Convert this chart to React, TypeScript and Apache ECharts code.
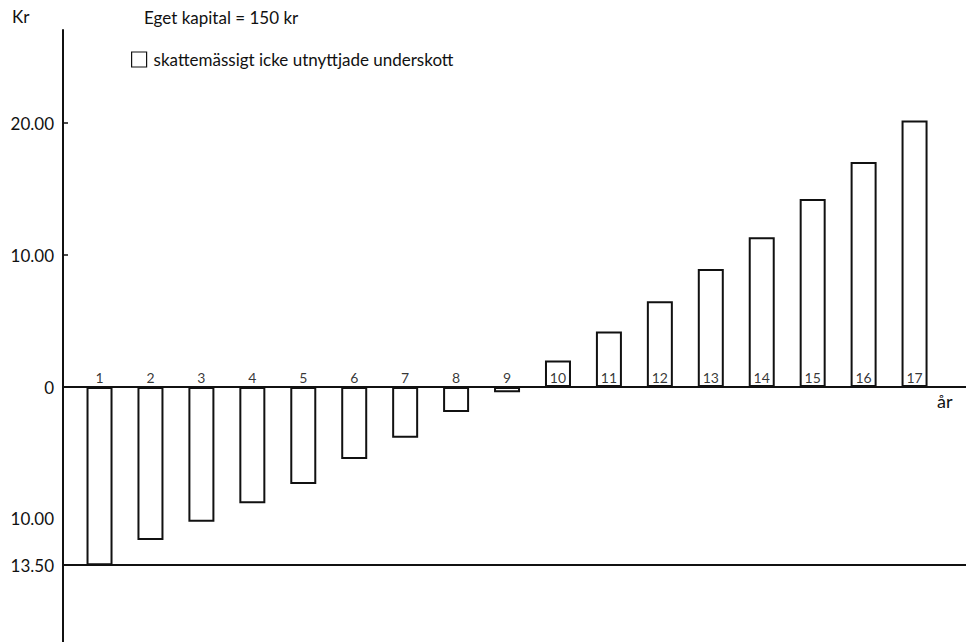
import React, { useEffect, useRef } from "react";
import * as echarts from "echarts";

const years = [1, 2, 3, 4, 5, 6, 7, 8, 9, 10, 11, 12, 13, 14, 15, 16, 17];
const values = [-13.5, -11.6, -10.2, -8.8, -7.35, -5.45, -3.85, -1.9, -0.4, 2.0, 4.2, 6.5, 8.95, 11.35, 14.25, 17.05, 20.2];
const yTicks = [-13.5, -10, 0, 10, 20];
const floorLine = -13.5;
const titleText = "Eget kapital = 150 kr";
const seriesName = "skattemässigt icke utnyttjade underskott";
const FONT = "Lato, 'Open Sans', 'DejaVu Sans', sans-serif";

export default function App() {
  const ref = useRef<HTMLDivElement>(null);
  useEffect(() => {
    if (!ref.current) return;
    const chart = echarts.init(ref.current, null, { renderer: "svg" });
    chart.setOption({
      animation: false,
      backgroundColor: "#ffffff",
      textStyle: { fontFamily: FONT, color: "#111" },
      title: {
        text: titleText,
        left: 139,
        top: 4,
        textStyle: { fontFamily: FONT, fontSize: 17, fontWeight: "normal", color: "#111" },
      },
      legend: {
        data: [seriesName],
        left: 126,
        top: 46,
        itemWidth: 15,
        itemHeight: 15,
        icon: "rect",
        itemStyle: { color: "#fff", borderColor: "#111", borderWidth: 1.2 },
        textStyle: { fontFamily: FONT, fontSize: 17, color: "#111", padding: [0, 0, 0, 2] },
      },
      grid: { left: 63, right: 0, top: 30, bottom: 0, containLabel: false },
      xAxis: {
        type: "value",
        min: 0.283,
        max: 18.01,
        axisLine: { onZero: true, lineStyle: { color: "#111", width: 2 } },
        axisTick: { show: false },
        axisLabel: { show: false },
        splitLine: { show: false },
      },
      yAxis: {
        type: "value",
        min: -19.32,
        max: 27.05,
        axisLine: { show: true, onZero: false, lineStyle: { color: "#111", width: 2 } },
        axisTick: {
          show: true,
          inside: true,
          length: 5,
          customValues: [10, 20],
          lineStyle: { color: "#111", width: 1.5 },
        },
        axisLabel: {
          show: true,
          customValues: yTicks,
          margin: 9,
          fontFamily: FONT,
          fontSize: 17,
          color: "#111",
          formatter: (v: number) => (v === 0 ? "0" : Math.abs(v).toFixed(2)),
        },
        splitLine: { show: false },
      },
      graphic: [
        {
          type: "text",
          left: 12,
          top: 8,
          style: { text: "Kr", fontFamily: FONT, fontSize: 17, fill: "#111" },
        },
        {
          type: "text",
          left: 937,
          top: 392,
          style: { text: "år", fontFamily: FONT, fontSize: 18, fill: "#111" },
        },
      ],
      series: [
        {
          name: seriesName,
          type: "bar",
          barWidth: 26,
          data: years.map((y, i) => [y, values[i]]),
          itemStyle: { color: "#ffffff", borderColor: "#111", borderWidth: 2 },
          z: 2,
          markLine: {
            silent: true,
            symbol: "none",
            label: { show: false },
            lineStyle: { color: "#111", width: 2, type: "solid" },
            data: [{ yAxis: floorLine }],
          },
        },
        {
          type: "scatter",
          symbolSize: 0,
          data: years.map((y) => [y, 0]),
          z: 5,
          label: {
            show: true,
            position: "top",
            distance: 3,
            formatter: (p: any) => String(p.value[0]),
            fontFamily: FONT,
            fontSize: 14,
            color: "#000",
          },
          silent: true,
        },
      ],
    });
    return () => chart.dispose();
  }, []);
  return <div ref={ref} style={{ width: 966, height: 642, position: "fixed", left: 0, top: 0 }} />;
}
